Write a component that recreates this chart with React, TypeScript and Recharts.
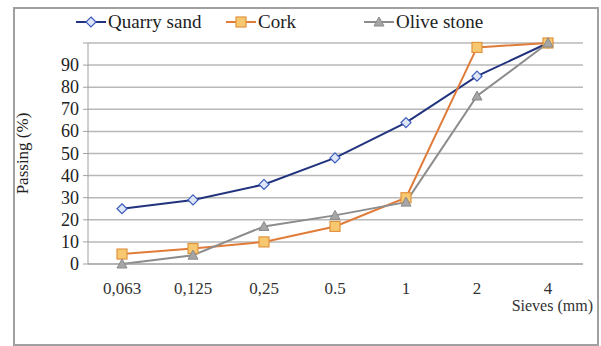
import React from 'react';
import {
  LineChart,
  Line,
  XAxis,
  YAxis,
  CartesianGrid,
} from 'recharts';

const sieves = ['0,063', '0,125', '0,25', '0.5', '1', '2', '4'];
const quarrySand = [25, 29, 36, 48, 64, 85, 100];
const cork = [4.5, 7, 10, 17, 30, 98, 100];
const oliveStone = [0, 4, 17, 22, 28, 76, 100];
const yTicks = [0, 10, 20, 30, 40, 50, 60, 70, 80, 90, 100];

const data = sieves.map((s, i) => ({
  sieve: s,
  quarry: quarrySand[i],
  cork: cork[i],
  olive: oliveStone[i],
}));

const FONT = 'Liberation Serif';

const Diamond = (props: any) => {
  const { cx, cy } = props;
  if (cx == null || cy == null) return null;
  const r = 5;
  return (
    <path
      d={`M${cx},${cy - r}L${cx + r},${cy}L${cx},${cy + r}L${cx - r},${cy}Z`}
      fill='#dfe6f7'
      stroke='#3b5bbd'
      strokeWidth={1.2}
    />
  );
};

const Square = (props: any) => {
  const { cx, cy } = props;
  if (cx == null || cy == null) return null;
  return (
    <rect
      x={cx - 5}
      y={cy - 5}
      width={10}
      height={10}
      fill='#f8c870'
      stroke='#e0943e'
      strokeWidth={1.2}
    />
  );
};

const Triangle = (props: any) => {
  const { cx, cy } = props;
  if (cx == null || cy == null) return null;
  return (
    <path
      d={`M${cx},${cy - 5}L${cx + 5},${cy + 4}L${cx - 5},${cy + 4}Z`}
      fill='#a6a6a6'
      stroke='#8a8a8a'
      strokeWidth={1}
    />
  );
};

const legendItems = [
  { name: 'Quarry sand', color: '#22337e', Marker: Diamond, x: 76 },
  { name: 'Cork', color: '#e07b39', Marker: Square, x: 226 },
  { name: 'Olive stone', color: '#8c8c8c', Marker: Triangle, x: 364 },
];

const XTick = (props: any) => {
  const { x, y, payload } = props;
  return (
    <text x={x} y={y + 22} textAnchor='middle' fontFamily={FONT} fontSize={17} fill='#333'>
      {payload.value}
    </text>
  );
};

const YTick = (props: any) => {
  const { x, y, payload } = props;
  if (payload.value === 100) return null;
  return (
    <text x={x - 2} y={y + 6} textAnchor='end' fontFamily={FONT} fontSize={18} fill='#222'>
      {payload.value}
    </text>
  );
};

const SievesLabel = (props: any) => {
  const { viewBox } = props;
  if (!viewBox) return null;
  return (
    <text
      x={viewBox.x + viewBox.width + 10}
      y={viewBox.y + 47}
      textAnchor='end'
      fontFamily={FONT}
      fontSize={16}
      fill='#333'
    >
      Sieves (mm)
    </text>
  );
};

export default function App() {
  return (
    <div
      style={{
        position: 'absolute',
        left: 0,
        top: 0,
        width: 601,
        height: 346,
        background: '#fff',
      }}
    >
      <div
        style={{
          position: 'absolute',
          left: 13,
          top: 7,
          width: 582,
          height: 335,
          border: '2px solid #a0a0a0',
        }}
      />
      <svg
        width={601}
        height={40}
        style={{ position: 'absolute', left: 0, top: 6 }}
      >
        {legendItems.map(({ name, color, Marker, x }) => (
          <g key={name}>
            <line x1={x} y1={16} x2={x + 30} y2={16} stroke={color} strokeWidth={2} />
            <Marker cx={x + 15} cy={16} />
            <text x={x + 32} y={22} fontFamily={FONT} fontSize={19} fill='#222'>
              {name}
            </text>
          </g>
        ))}
      </svg>
      <div style={{ position: 'absolute', left: 0, top: 0 }}>
        <LineChart
          width={601}
          height={346}
          data={data}
          margin={{ top: 43, right: 18, bottom: 0, left: 0 }}
        >
          <CartesianGrid vertical={false} stroke='#b8b8b8' strokeWidth={1.5} />
          <XAxis
            dataKey='sieve'
            height={82}
            padding={{ left: 34, right: 35 }}
            axisLine={{ stroke: '#a0a0a0' }}
            tickLine={false}
            tick={<XTick />}
            label={<SievesLabel />}
          />
          <YAxis
            domain={[0, 100]}
            ticks={yTicks}
            interval={0}
            width={88}
            axisLine={{ stroke: '#a0a0a0' }}
            tickLine={{ stroke: '#a0a0a0' }}
            tickSize={5}
            tick={<YTick />}
            label={{
              value: 'Passing (%)',
              angle: -90,
              position: 'insideLeft',
              offset: 0,
              dx: 22,
              style: { fontFamily: FONT, fontSize: 17, fill: '#222', textAnchor: 'middle' },
            }}
          />
          <Line
            dataKey='quarry'
            stroke='#22337e'
            strokeWidth={2}
            dot={<Diamond />}
            isAnimationActive={false}
          />
          <Line
            dataKey='cork'
            stroke='#e07b39'
            strokeWidth={2}
            dot={<Square />}
            isAnimationActive={false}
          />
          <Line
            dataKey='olive'
            stroke='#8c8c8c'
            strokeWidth={2}
            dot={<Triangle />}
            isAnimationActive={false}
          />
        </LineChart>
      </div>
    </div>
  );
}
